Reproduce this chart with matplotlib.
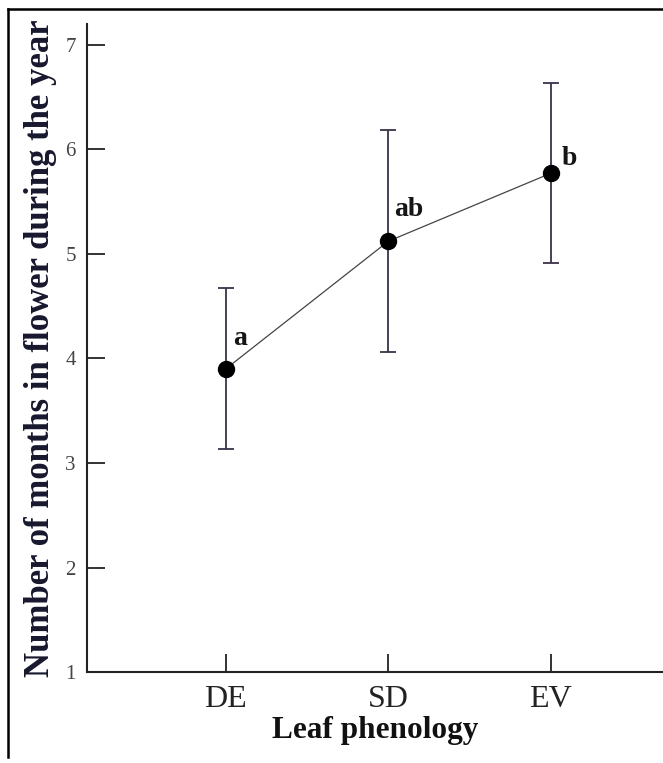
import numpy as np
import matplotlib
matplotlib.use("Agg")
from matplotlib import pyplot as plt
from matplotlib.lines import Line2D

# leaf phenology groups, mean months in flower and error bar half-widths
groups = ["DE", "SD", "EV"]
means = [3.90, 5.12, 5.77]
errs = [0.77, 1.06, 0.86]
letters = ["a", "ab", "b"]

plt.rcParams["font.family"] = ["Liberation Serif", "DejaVu Serif"]

fig = plt.figure(figsize=(6.63, 7.63), dpi=100)
ax = fig.add_axes([0.131, 0.119, 0.869, 0.850])

x = np.arange(1, len(groups) + 1)

ax.errorbar(x, means, yerr=errs, fmt="none", ecolor="#3a3148",
            elinewidth=1.3, capsize=5.5, capthick=1.3, zorder=2)
ax.plot(x, means, color="#444444", lw=0.9, zorder=3)
ax.plot(x, means, "o", color="black", ms=11.5, zorder=4)

# significance letters next to each mean
offsets = [(5, 17), (4.5, 18), (8, 6)]
for xi, m, lab, (dx, dy) in zip(x, means, letters, offsets):
    ax.annotate(lab, (xi, m), xytext=(dx, dy), textcoords="offset points",
                fontsize=20, fontweight="bold", color="#151515",
                ha="left", va="baseline")

ax.set_xlim(0.145, 3.69)
ax.set_ylim(1, 7.2)
ax.set_yticks([1, 2, 3, 4, 5, 6, 7])
ax.set_xticks(x)
ax.set_xticklabels(groups)

ax.spines["top"].set_visible(False)
ax.spines["right"].set_visible(False)
for s in ("left", "bottom"):
    ax.spines[s].set_linewidth(1.5)
    ax.spines[s].set_color("#222222")

ax.tick_params(axis="both", direction="in", length=13, width=1.3,
               color="#222222")
ax.tick_params(axis="y", labelsize=15, labelcolor="#444444", pad=8)
ax.tick_params(axis="x", labelsize=23, labelcolor="#222222", pad=9)

ax.set_xlabel("Leaf phenology", fontsize=22.5, fontweight="bold",
              color="#111111", labelpad=2)
ax.set_ylabel("Number of months in flower during the year", fontsize=25,
              fontweight="bold", color="#17172e", labelpad=6)

# left and top edges of the outer frame
fig.add_artist(Line2D([0.012, 0.012], [0.008, 0.988], transform=fig.transFigure,
                      color="black", lw=1.8))
fig.add_artist(Line2D([0.012, 1.0], [0.988, 0.988], transform=fig.transFigure,
                      color="black", lw=1.8))

fig.savefig("out.png", dpi=100)
